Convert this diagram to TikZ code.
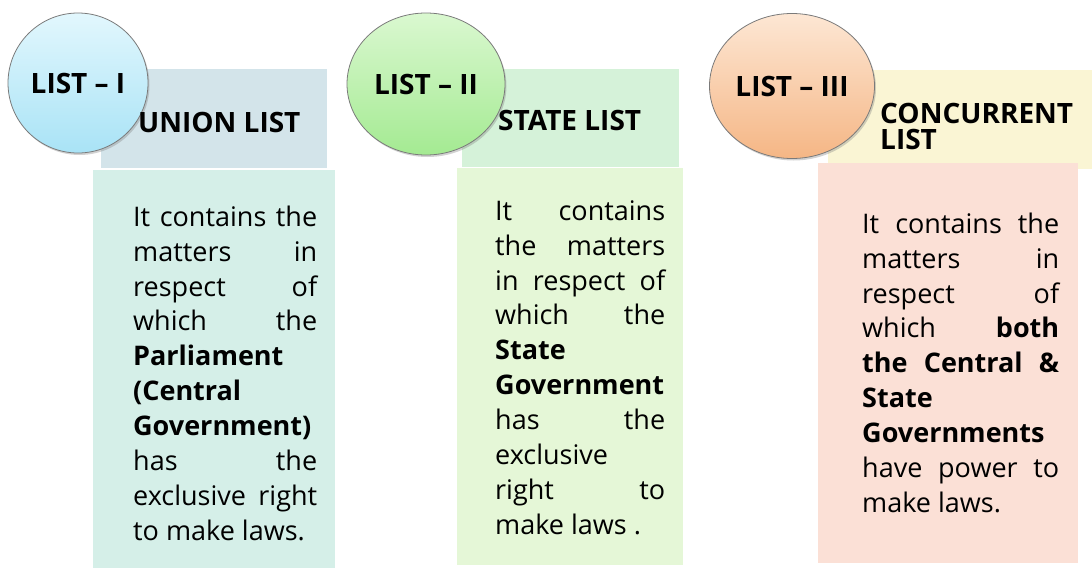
\documentclass[tikz,border=0pt]{standalone}
\usepackage{fontspec}
\setmainfont{Open Sans}
\usetikzlibrary{shapes.geometric,shadows}
\definecolor{hdA}{HTML}{D3E4EA}
\definecolor{bdA}{HTML}{D5EFE8}
\definecolor{hdB}{HTML}{D5F2D9}
\definecolor{bdB}{HTML}{E5F7D7}
\definecolor{hdC}{HTML}{FAF5D4}
\definecolor{bdC}{HTML}{FBE0D6}
\definecolor{ovAt}{HTML}{E2F7FD}
\definecolor{ovAb}{HTML}{A9E3F6}
\definecolor{ovBt}{HTML}{DAF8D0}
\definecolor{ovBb}{HTML}{A4EA92}
\definecolor{ovCt}{HTML}{FDE7D4}
\definecolor{ovCb}{HTML}{F5B685}
\definecolor{ovline}{HTML}{7A7A7A}
\newcommand\jfull[2]{\makebox[#1][s]{#2}}
\newcommand\jleft[2]{\makebox[#1][l]{#2}}
\newcommand\firststrut{\rule{0pt}{21pt}}
\begin{document}
\begin{tikzpicture}[x=1pt,y=-1pt,
  oval/.style={ellipse, draw=ovline, line width=0.8pt, inner sep=0pt,
    font=\fontsize{28}{30}\selectfont\bfseries,
    drop shadow={opacity=0.35, shadow xshift=1.5pt, shadow yshift=-2pt}},
  headtext/.style={inner sep=0pt, align=left, font=\fontsize{28}{25.5}\selectfont\bfseries},
  bodytext/.style={anchor=north west, inner sep=0pt, align=left,
    font=\fontsize{27}{34.9}\selectfont}]
\useasboundingbox (0,0) rectangle (1092,568);
\fill[white] (0,0) rectangle (1092,568);
% headers
\fill[hdA] (101,69) rectangle (327,168);
\fill[hdB] (462,69) rectangle (679,167);
\fill[hdC] (828,70) rectangle (1092,169);
% bodies
\fill[bdA] (93,170) rectangle (335,568);
\fill[bdB] (457,168) rectangle (683,565);
\fill[bdC] (818,163) rectangle (1078,563);
% ovals
\node[oval, top color=ovAt, bottom color=ovAb, minimum width=140pt, minimum height=140pt] (c1) at (78,83) {LIST – I};
\node[oval, top color=ovBt, bottom color=ovBb, minimum width=158pt, minimum height=142pt] (c2) at (426,84) {LIST – II};
\node[oval, top color=ovCt, bottom color=ovCb, minimum width=165pt, minimum height=145pt] (c3) at (792,86) {LIST – III};
% header texts
\node[headtext, anchor=base west] (h1) at (138,132) {UNION LIST};
\node[headtext, anchor=base west] (h2) at (498,130) {STATE LIST};
\node[headtext, anchor=north west] (h3) at (880,103) {CONCURRENT\\LIST};
% body texts
\node[bodytext] (t1) at (133,205) {%
\jfull{184pt}{\firststrut It contains the}\\
\jfull{184pt}{matters in}\\
\jfull{184pt}{respect of}\\
\jfull{184pt}{which the}\\
\jleft{184pt}{\textbf{Parliament}}\\
\jleft{184pt}{\textbf{(Central}}\\
\jleft{184pt}{\textbf{Government)}}\\
\jfull{184pt}{has the}\\
\jfull{184pt}{exclusive right}\\
\jleft{184pt}{to make laws.}};
\node[bodytext] (t2) at (495,199) {%
\jfull{170pt}{\firststrut It contains}\\
\jfull{170pt}{the matters}\\
\jfull{170pt}{in respect of}\\
\jfull{170pt}{which the}\\
\jleft{170pt}{\textbf{State}}\\
\jleft{170pt}{\textbf{Government}}\\
\jfull{170pt}{has the}\\
\jleft{170pt}{exclusive}\\
\jfull{170pt}{right to}\\
\jleft{170pt}{make laws .}};
\node[bodytext] (t3) at (862,212) {%
\jfull{197pt}{\firststrut It contains the}\\
\jfull{197pt}{matters in}\\
\jfull{197pt}{respect of}\\
\jfull{197pt}{which \textbf{both}}\\
\jfull{197pt}{\textbf{the Central \&}}\\
\jleft{197pt}{\textbf{State}}\\
\jleft{197pt}{\textbf{Governments}}\\
\jfull{197pt}{have power to}\\
\jleft{197pt}{make laws.}};
\end{tikzpicture}
\end{document}
